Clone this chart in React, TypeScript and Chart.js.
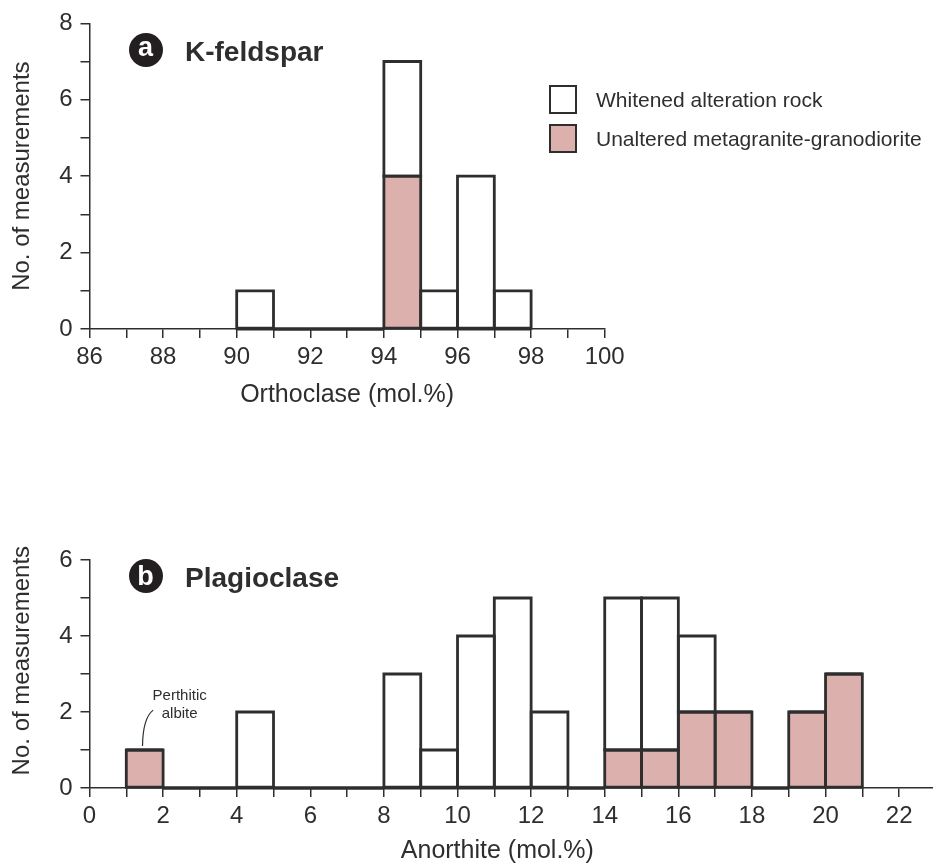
import React, { useEffect, useRef } from 'react';
import { Chart, registerables } from 'chart.js';

Chart.register(...registerables);

const FONT = '"Liberation Sans", Arial, Helvetica, sans-serif';
const INK = '#2e2e2e';
const PINK = '#dcb0ac';
const WHITE = '#ffffff';

const seriesNames = ['Whitened alteration rock', 'Unaltered metagranite-granodiorite'];
const yTitleText = 'No. of measurements';

// (a) K-feldspar: orthoclase bins (lower edge, 1 mol.% wide)
const kfsBins = [90, 91, 92, 93, 94, 95, 96, 97];
const kfsWhitened = [1, 0, 0, 0, 3, 1, 4, 1];
const kfsUnaltered = [0, 0, 0, 0, 4, 0, 0, 0];
const kfsXMin = 86;
const kfsXMax = 100;
const kfsYMax = 8;

// (b) Plagioclase: anorthite bins (lower edge, 1 mol.% wide)
const plgBins = [1, 2, 3, 4, 5, 6, 7, 8, 9, 10, 11, 12, 13, 14, 15, 16, 17, 18, 19, 20];
const plgWhitened = [0, 0, 0, 2, 0, 0, 0, 3, 1, 4, 5, 2, 0, 4, 4, 2, 0, 0, 0, 0];
const plgUnaltered = [1, 0, 0, 0, 0, 0, 0, 0, 0, 0, 0, 0, 0, 1, 1, 2, 2, 0, 2, 3];
const plgXMin = 0;
const plgXMax = 22.92;
const plgYMax = 6;

const noteLines = ['Perthitic', 'albite'];

const outlinePlugin = {
  id: 'binOutline',
  afterDatasetsDraw(chart: any) {
    const ctx = chart.ctx;
    ctx.save();
    ctx.strokeStyle = INK;
    ctx.lineWidth = 2.8;
    ctx.lineJoin = 'miter';
    chart.data.datasets.forEach((_ds: any, i: number) => {
      const meta = chart.getDatasetMeta(i);
      meta.data.forEach((el: any) => {
        const { x, y, base, width } = el.getProps(['x', 'y', 'base', 'width'], true);
        const l = x - width / 2;
        ctx.beginPath();
        if (Math.abs(base - y) < 0.5) {
          ctx.moveTo(l, base);
          ctx.lineTo(l + width, base);
        } else {
          ctx.rect(l, Math.min(y, base), width, Math.abs(base - y));
        }
        ctx.stroke();
      });
    });
    ctx.restore();
  },
};

const noteX = 2.45;
const noteYs = [2.316, 1.85];
const noteCurve = [
  [1.44, 1.105],
  [1.45, 1.84],
  [1.73, 2.05],
];

const notePlugin = {
  id: 'perthiticNote',
  afterDatasetsDraw(chart: any) {
    const { ctx } = chart;
    const xs = chart.scales.x;
    const ys = chart.scales.y;
    ctx.save();
    ctx.fillStyle = INK;
    ctx.font = `15px ${FONT}`;
    ctx.textAlign = 'center';
    ctx.textBaseline = 'alphabetic';
    noteLines.forEach((t, i) => {
      ctx.fillText(t, xs.getPixelForValue(noteX), ys.getPixelForValue(noteYs[i]));
    });
    ctx.strokeStyle = INK;
    ctx.lineWidth = 1.2;
    ctx.beginPath();
    ctx.moveTo(xs.getPixelForValue(noteCurve[0][0]), ys.getPixelForValue(noteCurve[0][1]));
    ctx.quadraticCurveTo(
      xs.getPixelForValue(noteCurve[1][0]),
      ys.getPixelForValue(noteCurve[1][1]),
      xs.getPixelForValue(noteCurve[2][0]),
      ys.getPixelForValue(noteCurve[2][1])
    );
    ctx.stroke();
    ctx.restore();
  },
};

type PanelProps = {
  bins: number[];
  whitened: number[];
  unaltered: number[];
  xMin: number;
  xMax: number;
  yMax: number;
  xTitle: string;
  yTitle: string;
  top: number;
  height: number;
  padTop: number;
  padRight: number;
  xScaleHeight: number;
  xTitlePadBottom: number;
  extra?: any[];
};

function HistPanel(p: PanelProps) {
  const ref = useRef<HTMLCanvasElement | null>(null);
  useEffect(() => {
    if (!ref.current) return;
    const tickFont = { family: FONT, size: 24 };
    const chart = new Chart(ref.current, {
      type: 'bar',
      data: {
        datasets: [
          {
            label: seriesNames[1],
            data: p.bins.map((b, i) => ({ x: b + 0.5, y: p.unaltered[i] })),
            backgroundColor: PINK,
            borderWidth: 0,
            barPercentage: 1,
            categoryPercentage: 1,
            stack: 's',
          },
          {
            label: seriesNames[0],
            data: p.bins.map((b, i) => ({ x: b + 0.5, y: p.whitened[i] })),
            backgroundColor: WHITE,
            borderWidth: 0,
            barPercentage: 1,
            categoryPercentage: 1,
            stack: 's',
          },
        ] as any,
      },
      options: {
        responsive: false,
        animation: false,
        events: [],
        layout: { padding: { top: p.padTop, right: p.padRight, bottom: 0, left: 0 } },
        plugins: {
          legend: { display: false },
          tooltip: { enabled: false },
          title: { display: false },
        },
        scales: {
          x: {
            type: 'linear',
            min: p.xMin,
            max: p.xMax,
            offset: false,
            stacked: true,
            grid: {
              offset: false,
              drawOnChartArea: false,
              drawTicks: true,
              tickLength: 9,
              color: INK,
              lineWidth: 1.5,
            },
            border: { display: true, color: INK, width: 1.5 },
            ticks: {
              stepSize: 1,
              autoSkip: false,
              includeBounds: false,
              maxRotation: 0,
              minRotation: 0,
              padding: 5,
              color: INK,
              font: tickFont,
              callback: (v: any) => (Number.isInteger(v) && v % 2 === 0 ? String(v) : ''),
            },
            title: {
              display: true,
              text: p.xTitle,
              color: INK,
              font: { family: FONT, size: 25 },
              padding: { top: 0, bottom: p.xTitlePadBottom },
            },
            afterFit: (s: any) => {
              s.height = p.xScaleHeight;
            },
          },
          y: {
            type: 'linear',
            min: 0,
            max: p.yMax,
            stacked: true,
            grid: {
              drawOnChartArea: false,
              drawTicks: true,
              tickLength: 9,
              color: INK,
              lineWidth: 1.5,
            },
            border: { display: true, color: INK, width: 1.5 },
            ticks: {
              stepSize: 1,
              autoSkip: false,
              includeBounds: false,
              padding: 8,
              color: INK,
              font: tickFont,
              callback: (v: any) => (Number.isInteger(v) && v % 2 === 0 ? String(v) : ''),
            },
            title: {
              display: true,
              text: p.yTitle,
              color: INK,
              font: { family: FONT, size: 24 },
              padding: { top: 8, bottom: 0 },
            },
            afterFit: (s: any) => {
              s.width = 89.5;
            },
          },
        },
      } as any,
      plugins: [outlinePlugin, ...(p.extra || [])],
    });
    return () => chart.destroy();
  }, []);
  return (
    <canvas
      ref={ref}
      width={933}
      height={p.height}
      style={{ position: 'absolute', left: 0, top: p.top, width: 933, height: p.height, display: 'block' }}
    />
  );
}

function PanelTag({ letter, name, cx, cy, glyphShift }: { letter: string; name: string; cx: number; cy: number; glyphShift: number }) {
  return (
    <>
      <div
        style={{
          position: 'absolute',
          left: cx - 17,
          top: cy - 17,
          width: 34,
          height: 34,
          borderRadius: '50%',
          background: '#231f20',
        }}
      >
        <div
          style={{
            position: 'absolute',
            left: 0,
            width: 34,
            top: 3.5 - glyphShift,
            textAlign: 'center',
            color: '#fff',
            font: `bold 27px ${FONT}`,
            lineHeight: '27px',
          }}
        >
          {letter}
        </div>
      </div>
      <div
        style={{
          position: 'absolute',
          left: 185,
          top: cy + 12 - 23.7,
          color: INK,
          font: `bold 28px ${FONT}`,
          lineHeight: '28px',
          whiteSpace: 'nowrap',
        }}
      >
        {name}
      </div>
    </>
  );
}

function Legend() {
  const rows = [
    { label: seriesNames[0], fill: WHITE, cy: 99.5 },
    { label: seriesNames[1], fill: PINK, cy: 138.5 },
  ];
  return (
    <>
      {rows.map((r) => (
        <React.Fragment key={r.label}>
          <div
            style={{
              position: 'absolute',
              left: 549,
              top: r.cy - 14.5,
              width: 28,
              height: 29,
              boxSizing: 'border-box',
              border: `2.6px solid ${INK}`,
              background: r.fill,
            }}
          />
          <div
            style={{
              position: 'absolute',
              left: 596,
              top: r.cy - 10.3,
              color: INK,
              font: `21px ${FONT}`,
              lineHeight: '21px',
              whiteSpace: 'nowrap',
            }}
          >
            {r.label}
          </div>
        </React.Fragment>
      ))}
    </>
  );
}

export default function App() {
  return (
    <div style={{ position: 'absolute', left: 0, top: 0, width: 933, height: 866, background: '#fff', overflow: 'hidden' }}>
      <HistPanel
        bins={kfsBins}
        whitened={kfsWhitened}
        unaltered={kfsUnaltered}
        xMin={kfsXMin}
        xMax={kfsXMax}
        yMax={kfsYMax}
        xTitle="Orthoclase (mol.%)"
        yTitle={yTitleText}
        top={0}
        height={420}
        padTop={23.3}
        padRight={933 - 604.7}
        xScaleHeight={420 - 329}
        xTitlePadBottom={10}
      />
      <HistPanel
        bins={plgBins}
        whitened={plgWhitened}
        unaltered={plgUnaltered}
        xMin={plgXMin}
        xMax={plgXMax}
        yMax={plgYMax}
        xTitle={'Anorthite (mol.%)    '}
        yTitle={'    ' + yTitleText}
        top={470}
        height={396}
        padTop={90}
        padRight={0}
        xScaleHeight={866 - 788}
        xTitlePadBottom={0}
        extra={[notePlugin]}
      />
      <PanelTag letter="a" name="K-feldspar" cx={145.5} cy={50} glyphShift={3} />
      <PanelTag letter="b" name="Plagioclase" cx={145.5} cy={576} glyphShift={0} />
      <Legend />
    </div>
  );
}
